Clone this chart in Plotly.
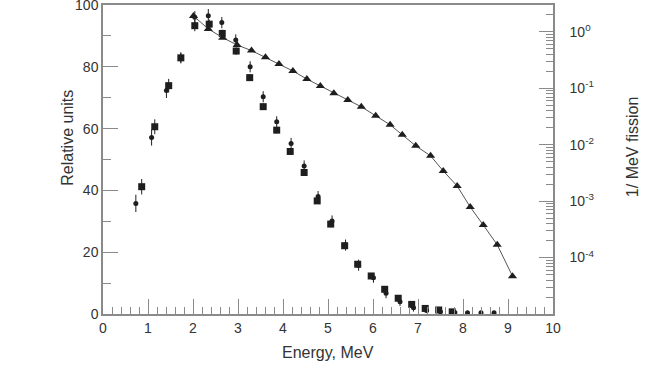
import plotly.graph_objects as go

# circles (relative units, left axis)
circ_e = [0.73, 1.08, 1.41, 1.73, 2.04, 2.34, 2.64, 2.95, 3.27, 3.56, 3.86, 4.18, 4.47, 4.78,
          5.09, 5.39, 5.68, 6.01, 6.29, 6.60, 6.90, 7.19, 7.50, 7.82, 8.10, 8.40, 8.69]
circ_v = [35.8, 57.1, 72.3, 82.9, 96.0, 96.5, 94.3, 88.7, 80.0, 70.3, 62.2, 55.2, 47.9, 38.0,
          30.1, 22.3, 15.8, 11.7, 6.7, 4.0, 2.0, 1.1, 0.7, 0.5, 0.4, 0.4, 0.4]
circ_err = [2.8, 2.6, 2.4, 1.8, 2.0, 2.2, 1.8, 1.8, 1.8, 1.8, 1.8, 1.8, 1.8, 1.8,
            1.8, 1.8, 1.8, 1.6, 1.6, 1.4, 1.2, 0.8, 0.6, 0.4, 0.2, 0.2, 0.2]

# squares (relative units, left axis)
sq_e = [0.86, 1.15, 1.46, 1.73, 2.04, 2.36, 2.65, 2.96, 3.26, 3.56, 3.86, 4.16, 4.47, 4.76,
        5.06, 5.37, 5.66, 5.96, 6.26, 6.56, 6.86, 7.16, 7.46, 7.76]
sq_v = [41.2, 60.6, 73.9, 82.9, 93.3, 93.8, 90.8, 85.1, 76.5, 67.1, 59.5, 52.6, 45.8, 36.6,
        29.1, 22.1, 16.1, 12.3, 8.0, 5.1, 3.1, 1.8, 1.3, 0.7]
sq_err = [2.5, 2.4, 2.2, 1.5, 1.8, 1.5, 1.2, 1.2, 1.0, 1.0, 1.0, 1.0, 1.0, 1.0,
          1.0, 1.0, 1.0, 1.0, 1.0, 1.0, 1.0, 0.6, 0.4, 0.3]

# triangles (1/MeV fission, right log axis)
tri_e = [2.01, 2.34, 2.66, 2.98, 3.30, 3.61, 3.91, 4.22, 4.53, 4.83, 5.13, 5.44, 5.74, 6.06,
         6.38, 6.65, 6.95, 7.28, 7.56, 7.87, 8.16, 8.45, 8.76, 9.10]
tri_v = [1.92, 1.13, 0.79, 0.587, 0.466, 0.355, 0.270, 0.203, 0.146, 0.110, 0.0815, 0.0619,
         0.0471, 0.0326, 0.0226, 0.0150, 0.00955, 0.00635, 0.00344, 0.00186, 0.000789,
         0.000378, 0.000169, 0.0000469]

log_ticks = [1, 0.1, 0.01, 0.001, 0.0001]
log_labels = ["10<sup>0</sup>", "10<sup>-1</sup>", "10<sup>-2</sup>", "10<sup>-3</sup>", "10<sup>-4</sup>"]
log_minor = [k * 10.0 ** n for n in range(-5, 1) for k in range(2, 10)]

axis_col = "#8a8a8a"
text_col = "#333333"
mark_col = "#1e1e1e"

fig = go.Figure()
fig.add_trace(go.Scatter(
    x=circ_e, y=circ_v, mode="markers",
    marker=dict(symbol="circle", size=5, color=mark_col),
    error_y=dict(type="data", array=circ_err, thickness=1, width=0, color=mark_col),
))
fig.add_trace(go.Scatter(
    x=sq_e, y=sq_v, mode="markers",
    marker=dict(symbol="square", size=7, color=mark_col),
    error_y=dict(type="data", array=sq_err, thickness=1, width=0, color=mark_col),
))
fig.add_trace(go.Scatter(
    x=tri_e, y=tri_v, mode="lines+markers", yaxis="y2",
    line=dict(color="#555555", width=1),
    marker=dict(symbol="triangle-up", size=8, color=mark_col),
))

fig.update_layout(
    width=657, height=392,
    margin=dict(l=103, r=104, t=5, b=78),
    plot_bgcolor="white", paper_bgcolor="white",
    showlegend=False,
    font=dict(family="Liberation Sans, Arial, sans-serif", size=14, color=text_col),
    xaxis=dict(
        range=[0, 10], dtick=1, showgrid=False, zeroline=False, automargin=False,
        showline=True, linecolor=axis_col, linewidth=1.5, mirror=True,
        ticks="inside", ticklen=15, tickcolor=axis_col,
        minor=dict(dtick=0.2, ticks="inside", ticklen=7, tickcolor=axis_col),
    ),
    yaxis=dict(
        range=[0, 100], dtick=20, showgrid=False, zeroline=False, automargin=False,
        showline=True, linecolor=axis_col, linewidth=1.5, ticklabeloverflow="allow",
        ticks="inside", ticklen=15, tickcolor=axis_col,
        minor=dict(dtick=10, ticks="inside", ticklen=8, tickcolor=axis_col),
    ),
    yaxis2=dict(
        type="log", range=[-5, 0.477], overlaying="y", side="right",
        showgrid=False, zeroline=False, automargin=False,
        showline=True, linecolor=axis_col, linewidth=1.5,
        tickvals=log_ticks, ticktext=log_labels,
        ticks="inside", ticklen=14, tickcolor=axis_col, ticklabelstandoff=12,
        minor=dict(tickvals=log_minor, ticks="inside", ticklen=7, tickcolor=axis_col),
    ),
    annotations=[
        dict(text="Energy, MeV", xref="paper", yref="paper", x=0.5, y=-0.123,
             showarrow=False, font=dict(size=16), xanchor="center", yanchor="middle"),
        dict(text="Relative units", xref="paper", yref="paper", x=-0.078, y=0.57,
             showarrow=False, font=dict(size=16), textangle=-90,
             xanchor="center", yanchor="middle"),
        dict(text="1/ MeV fission", xref="paper", yref="paper", x=1.1756, y=0.54,
             showarrow=False, font=dict(size=16), textangle=-90,
             xanchor="center", yanchor="middle"),
    ],
)

# the page's default body margin would shift the figure by 8px
fig.write_html("out.html", config={"displayModeBar": False},
               post_script="document.body.style.margin = '0';")
